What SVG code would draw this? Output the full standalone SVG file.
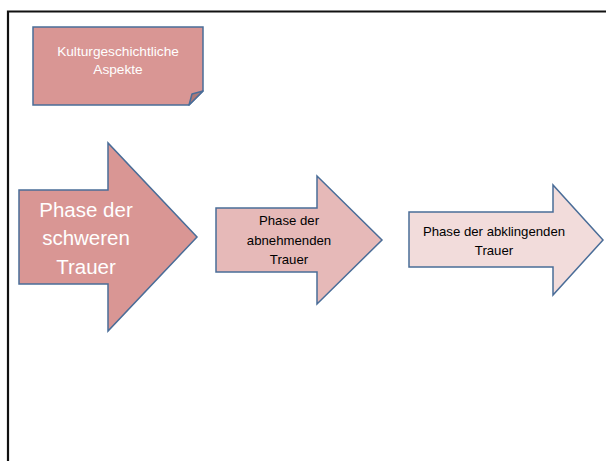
<svg xmlns="http://www.w3.org/2000/svg" width="606" height="461" viewBox="0 0 606 461">
<style>
.shape{stroke:#4a6d98;stroke-width:1.5;stroke-linejoin:miter}
.t{font-family:"Liberation Sans",Arial,sans-serif;text-anchor:middle}
</style>
<rect width="606" height="461" fill="#fff"/>
<g id="frame"><path d="M8 461 V11.5 H606" fill="none" stroke="#111" stroke-width="2.2"/></g>
<g id="note">
<path class="shape" d="M33 27 H203 V91 L189 105 H33 Z" fill="#d99694"/>
<path d="M189 105 L192 94 L203 91 Z" fill="#ae7876" stroke="#4a6d98" stroke-width="1.5" stroke-linejoin="round"/>
<text class="t" x="118" y="56" font-size="13.7" fill="#fff">Kulturgeschichtliche</text>
<text class="t" x="118" y="74" font-size="13.7" fill="#fff">Aspekte</text>
</g>
<g id="arrow1">
<path class="shape" d="M19 190 H108 V143 L197 237 L108 331 V284 H19 Z" fill="#d99694"/>
<text class="t" x="86" y="217" font-size="20.5" fill="#fff">Phase der</text>
<text class="t" x="86" y="245" font-size="20.5" fill="#fff">schweren</text>
<text class="t" x="86" y="274" font-size="20.5" fill="#fff">Trauer</text>
</g>
<g id="arrow2">
<path class="shape" d="M216 208 H317 V176 L382 240 L317 304 V272 H216 Z" fill="#e6b9b8"/>
<text class="t" x="289" y="225" font-size="13.2" fill="#000">Phase der</text>
<text class="t" x="289" y="244.5" font-size="13.2" fill="#000">abnehmenden</text>
<text class="t" x="289" y="264" font-size="13.2" fill="#000">Trauer</text>
</g>
<g id="arrow3">
<path class="shape" d="M409 212 H553 V185 L603 240 L553 295 V267 H409 Z" fill="#f2dcdb"/>
<text class="t" x="494" y="236" font-size="13.2" fill="#000">Phase der abklingenden</text>
<text class="t" x="494" y="255" font-size="13.2" fill="#000">Trauer</text>
</g>
<g id="connectors"></g>
</svg>
